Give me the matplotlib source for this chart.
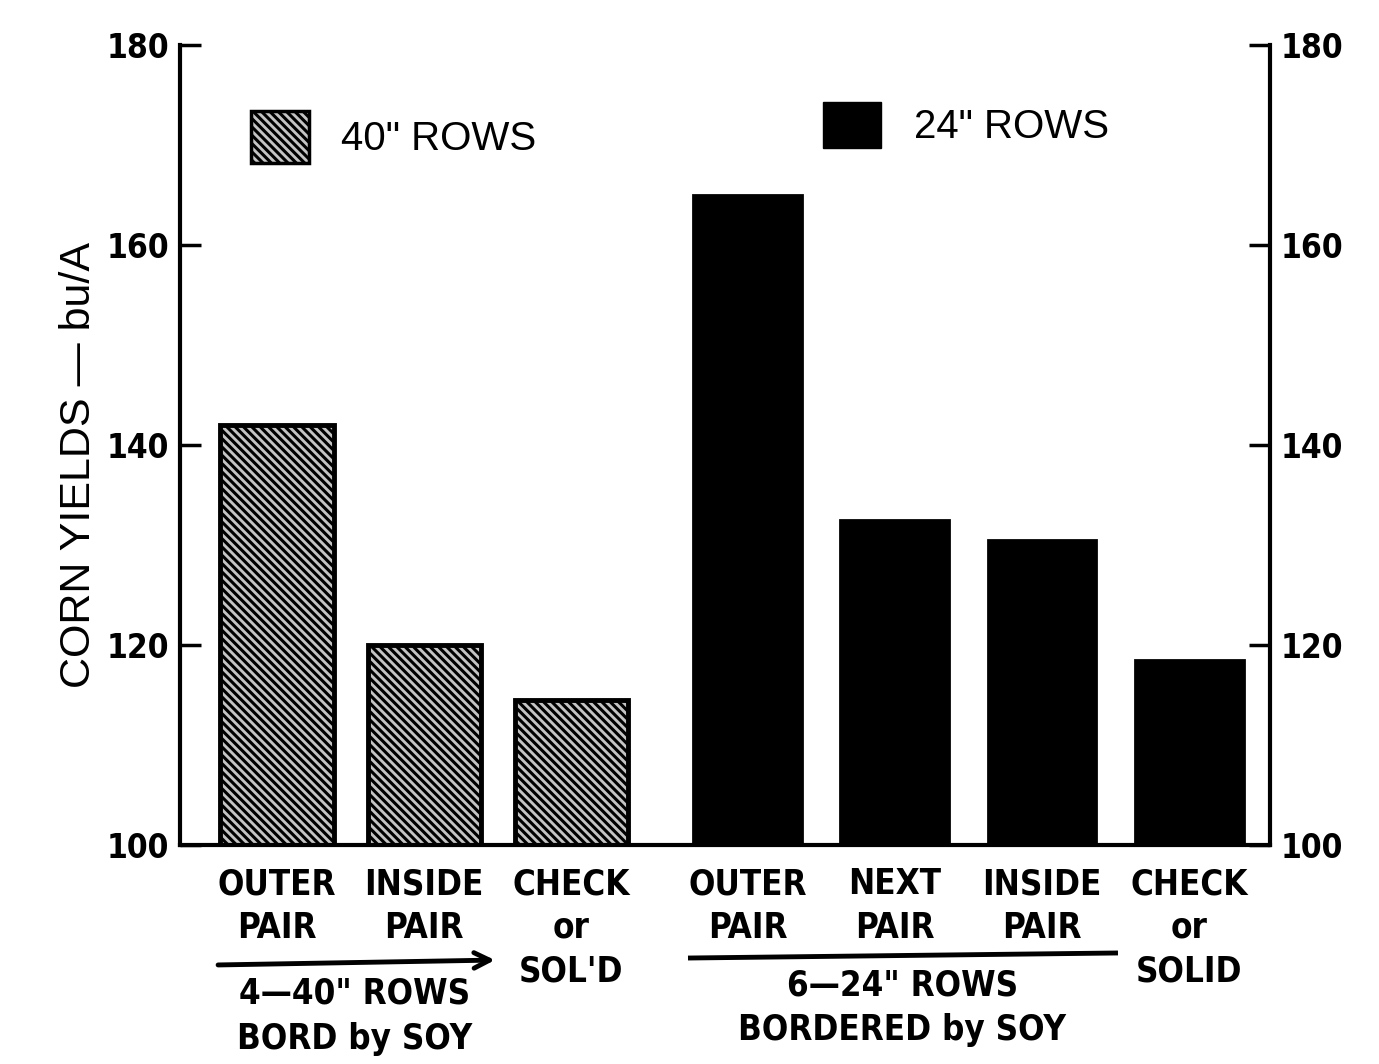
import matplotlib
matplotlib.use("Agg")
import matplotlib.pyplot as plt
from matplotlib.patches import Patch
from matplotlib.transforms import blended_transform_factory

# ---- data ----
cats_40 = ["OUTER\nPAIR", "INSIDE\nPAIR", "CHECK\nor\nSOL'D"]
vals_40 = [142.0, 120.0, 114.5]
cats_24 = ["OUTER\nPAIR", "NEXT\nPAIR", "INSIDE\nPAIR", "CHECK\nor\nSOLID"]
vals_24 = [165.0, 132.5, 130.5, 118.5]
yticks = [100, 120, 140, 160, 180]
legend_40 = '40" ROWS'
legend_24 = '24" ROWS'
group_40 = '4\u201440" ROWS\nBORD by SOY'
group_24 = '6\u201424" ROWS\nBORDERED by SOY'
ylabel = "CORN YIELDS \u2014 bu/A"

x_40 = [0, 1, 2]
x_24 = [3.2, 4.2, 5.2, 6.2]

plt.rcParams['hatch.linewidth'] = 2.2
narrow = ['DejaVu Sans Condensed', 'Liberation Sans Narrow', 'DejaVu Sans']
reg = ['Liberation Sans', 'DejaVu Sans']

fig = plt.figure(figsize=(13.79, 10.64), dpi=100)
ax = fig.add_axes([180/1379, 1-845/1064, (1270-180)/1379, 800/1064])

ax.bar(x_40, [v - 100 for v in vals_40], bottom=100, width=0.77,
       facecolor='#c4c4c4', edgecolor='black', linewidth=3.5, hatch='\\\\\\\\')
ax.bar(x_24, [v - 100 for v in vals_24], bottom=100, width=0.74,
       facecolor='black', edgecolor='black', linewidth=2)

ax.set_xlim(-0.66, 6.75)
ax.set_ylim(100, 180)
ax.spines['top'].set_visible(False)
for s in ['left', 'right', 'bottom']:
    ax.spines[s].set_linewidth(3)

ax.set_yticks(yticks)
ax.tick_params(axis='y', direction='in', length=15, width=2.5, pad=8,
               right=True, labelright=True)
for t in ax.yaxis.get_major_ticks():
    for lab in (t.label1, t.label2):
        lab.set_fontfamily(narrow)
        lab.set_fontstretch('condensed')
        lab.set_fontweight('bold')
        lab.set_fontsize(24)

ax.set_xticks(x_40 + x_24)
ax.set_xticklabels(cats_40 + cats_24, family=narrow, fontweight='bold', stretch='condensed',
                   fontsize=25, linespacing=1.35, va='top')
ax.tick_params(axis='x', length=0, pad=16)

ax.set_ylabel(ylabel, family=reg, fontsize=31)
ax.yaxis.set_label_coords(-0.074, 0.475)

# legends
h40 = Patch(facecolor='#c4c4c4', edgecolor='black', linewidth=2.5, hatch='\\\\\\\\')
h24 = Patch(facecolor='black', edgecolor='black')
leg1 = ax.legend([h40], [legend_40], loc='center left', bbox_to_anchor=(0.039, 0.885),
                 frameon=False, handlelength=1.45, handleheight=1.6, handletextpad=0.8,
                 borderpad=0.2, prop={'family': reg, 'size': 29})
ax.add_artist(leg1)
ax.legend([h24], [legend_24], loc='center left', bbox_to_anchor=(0.564, 0.9),
          frameon=False, handlelength=1.45, handleheight=1.4, handletextpad=0.8,
          borderpad=0.2, prop={'family': reg, 'size': 29})

# group brackets below axis
tr = blended_transform_factory(ax.transData, fig.transFigure)
ax.annotate('', xy=(1.50, 1-960/1064), xytext=(-0.42, 1-965/1064),
            xycoords=tr, textcoords=tr, annotation_clip=False,
            arrowprops=dict(arrowstyle='->', lw=3.5, color='black',
                            mutation_scale=28))
ax.plot([2.81, 5.70], [1-958/1064, 1-953/1064], transform=tr, color='black',
        lw=3.5, clip_on=False)
ax.text(0.53, 1-977/1064, group_40, transform=tr, ha='center', va='top',
        family=narrow, fontweight='bold', stretch='condensed', fontsize=25, linespacing=1.4)
ax.text(4.25, 1-968/1064, group_24, transform=tr, ha='center', va='top',
        family=narrow, fontweight='bold', stretch='condensed', fontsize=25, linespacing=1.4)

fig.savefig('out.png', dpi=100, facecolor='white')
